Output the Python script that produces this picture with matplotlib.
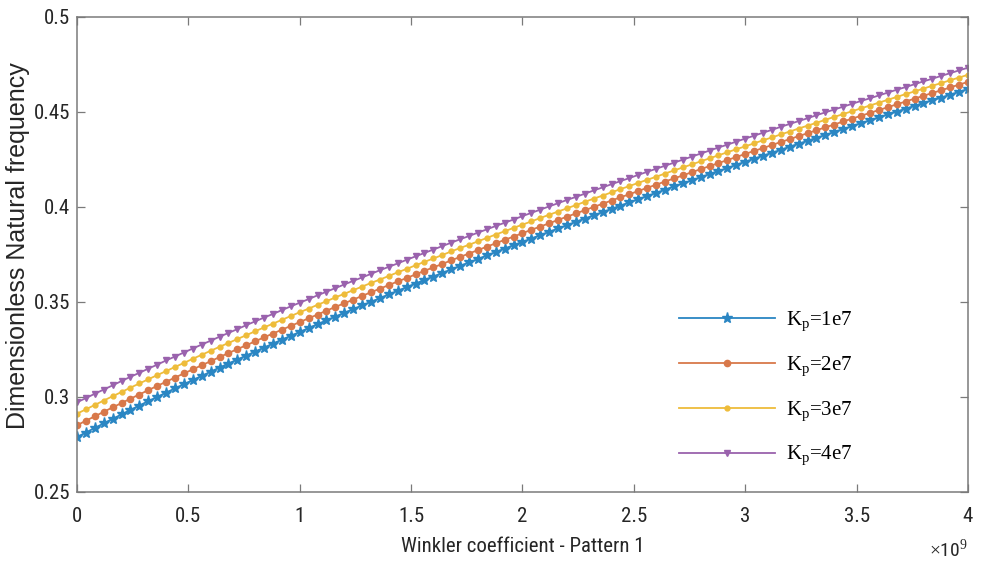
import matplotlib
matplotlib.use("Agg")
import matplotlib.pyplot as plt
import numpy as np
from matplotlib import font_manager

# ---------------- data ----------------
winkler_step = 4e7
n_points = 101
winkler = np.arange(n_points) * winkler_step  # 0 ... 4e9

kp1 = [0.2789, 0.2813, 0.2837, 0.2861, 0.2885, 0.2908, 0.2932, 0.2955, 0.2978, 0.3000,
       0.3023, 0.3045, 0.3067, 0.3089, 0.3111, 0.3133, 0.3155, 0.3176, 0.3197, 0.3218,
       0.3239, 0.3260, 0.3281, 0.3302, 0.3322, 0.3342, 0.3363, 0.3383, 0.3403, 0.3423,
       0.3443, 0.3462, 0.3482, 0.3501, 0.3520, 0.3540, 0.3559, 0.3578, 0.3597, 0.3616,
       0.3634, 0.3653, 0.3671, 0.3690, 0.3708, 0.3726, 0.3745, 0.3763, 0.3781, 0.3799,
       0.3816, 0.3834, 0.3852, 0.3869, 0.3887, 0.3904, 0.3922, 0.3939, 0.3956, 0.3973,
       0.3990, 0.4007, 0.4024, 0.4041, 0.4058, 0.4074, 0.4091, 0.4108, 0.4124, 0.4140,
       0.4157, 0.4173, 0.4189, 0.4205, 0.4222, 0.4238, 0.4254, 0.4270, 0.4285, 0.4301,
       0.4317, 0.4333, 0.4348, 0.4364, 0.4379, 0.4395, 0.4410, 0.4426, 0.4441, 0.4456,
       0.4471, 0.4487, 0.4502, 0.4517, 0.4532, 0.4547, 0.4562, 0.4576, 0.4591, 0.4606,
       0.4621]

kp2 = [0.2851, 0.2875, 0.2898, 0.2922, 0.2945, 0.2968, 0.2991, 0.3013, 0.3036, 0.3058,
       0.3080, 0.3102, 0.3124, 0.3145, 0.3167, 0.3188, 0.3210, 0.3231, 0.3252, 0.3272,
       0.3293, 0.3314, 0.3334, 0.3354, 0.3374, 0.3394, 0.3414, 0.3434, 0.3454, 0.3474,
       0.3493, 0.3512, 0.3532, 0.3551, 0.3570, 0.3589, 0.3608, 0.3626, 0.3645, 0.3664,
       0.3682, 0.3700, 0.3719, 0.3737, 0.3755, 0.3773, 0.3791, 0.3809, 0.3827, 0.3844,
       0.3862, 0.3880, 0.3897, 0.3914, 0.3932, 0.3949, 0.3966, 0.3983, 0.4000, 0.4017,
       0.4034, 0.4051, 0.4067, 0.4084, 0.4101, 0.4117, 0.4134, 0.4150, 0.4166, 0.4183,
       0.4199, 0.4215, 0.4231, 0.4247, 0.4263, 0.4279, 0.4295, 0.4310, 0.4326, 0.4342,
       0.4357, 0.4373, 0.4388, 0.4404, 0.4419, 0.4434, 0.4450, 0.4465, 0.4480, 0.4495,
       0.4510, 0.4525, 0.4540, 0.4555, 0.4570, 0.4585, 0.4600, 0.4614, 0.4629, 0.4644,
       0.4658]

kp3 = [0.2912, 0.2935, 0.2958, 0.2981, 0.3004, 0.3026, 0.3049, 0.3071, 0.3093, 0.3115,
       0.3136, 0.3158, 0.3179, 0.3201, 0.3222, 0.3243, 0.3264, 0.3284, 0.3305, 0.3325,
       0.3346, 0.3366, 0.3386, 0.3406, 0.3426, 0.3446, 0.3465, 0.3485, 0.3504, 0.3524,
       0.3543, 0.3562, 0.3581, 0.3600, 0.3618, 0.3637, 0.3656, 0.3674, 0.3693, 0.3711,
       0.3729, 0.3747, 0.3766, 0.3784, 0.3801, 0.3819, 0.3837, 0.3855, 0.3872, 0.3890,
       0.3907, 0.3924, 0.3942, 0.3959, 0.3976, 0.3993, 0.4010, 0.4027, 0.4044, 0.4060,
       0.4077, 0.4094, 0.4110, 0.4127, 0.4143, 0.4159, 0.4176, 0.4192, 0.4208, 0.4224,
       0.4240, 0.4256, 0.4272, 0.4288, 0.4304, 0.4319, 0.4335, 0.4351, 0.4366, 0.4382,
       0.4397, 0.4413, 0.4428, 0.4443, 0.4459, 0.4474, 0.4489, 0.4504, 0.4519, 0.4534,
       0.4549, 0.4564, 0.4579, 0.4594, 0.4608, 0.4623, 0.4638, 0.4652, 0.4667, 0.4681,
       0.4696]

kp4 = [0.2972, 0.2994, 0.3017, 0.3039, 0.3061, 0.3084, 0.3106, 0.3127, 0.3149, 0.3170,
       0.3192, 0.3213, 0.3234, 0.3255, 0.3276, 0.3296, 0.3317, 0.3337, 0.3357, 0.3378,
       0.3398, 0.3418, 0.3437, 0.3457, 0.3477, 0.3496, 0.3515, 0.3535, 0.3554, 0.3573,
       0.3592, 0.3611, 0.3629, 0.3648, 0.3667, 0.3685, 0.3703, 0.3722, 0.3740, 0.3758,
       0.3776, 0.3794, 0.3812, 0.3830, 0.3847, 0.3865, 0.3882, 0.3900, 0.3917, 0.3934,
       0.3952, 0.3969, 0.3986, 0.4003, 0.4020, 0.4037, 0.4053, 0.4070, 0.4087, 0.4103,
       0.4120, 0.4136, 0.4152, 0.4169, 0.4185, 0.4201, 0.4217, 0.4233, 0.4249, 0.4265,
       0.4281, 0.4297, 0.4313, 0.4328, 0.4344, 0.4360, 0.4375, 0.4391, 0.4406, 0.4422,
       0.4437, 0.4452, 0.4467, 0.4483, 0.4498, 0.4513, 0.4528, 0.4543, 0.4558, 0.4572,
       0.4587, 0.4602, 0.4617, 0.4631, 0.4646, 0.4661, 0.4675, 0.4690, 0.4704, 0.4719,
       0.4733]

series = [kp1, kp2, kp3, kp4]
labels = [r"K$_\mathregular{p}$=1e7", r"K$_\mathregular{p}$=2e7",
          r"K$_\mathregular{p}$=3e7", r"K$_\mathregular{p}$=4e7"]
colors = ["#2a86c3", "#d8784a", "#eebc3a", "#9a62ad"]
markers = ["*", "o", ".", "v"]
msizes = [8, 4.5, 7, 5]

xticks = [0, 0.5e9, 1e9, 1.5e9, 2e9, 2.5e9, 3e9, 3.5e9, 4e9]
xticklabels = ["0", "0.5", "1", "1.5", "2", "2.5", "3", "3.5", "4"]
yticks = [0.25, 0.3, 0.35, 0.4, 0.45, 0.5]
yticklabels = ["0.25", "0.3", "0.35", "0.4", "0.45", "0.5"]

# --------------- fonts ---------------
narrow_family = None
narrow_stretch = "normal"
ttf = font_manager.fontManager.ttflist
prefs = ["Liberation Sans Narrow", "DejaVu Sans Condensed", "Roboto Condensed",
         "Open Sans Condensed", "Noto Sans Condensed"]
for p in prefs:
    hit = [f for f in ttf if f.name == p and f.style == "normal"]
    if hit:
        narrow_family, narrow_stretch = hit[0].name, hit[0].stretch
        break
if narrow_family is None:
    hit = [f for f in ttf if f.style == "normal" and f.weight in (400, "normal")
           and (str(f.stretch) in ("condensed", "semi-condensed", "extra-condensed")
                or "Narrow" in f.name or "Condensed" in f.name)]
    hit.sort(key=lambda f: (0 if "Sans" in f.name else 1))
    if hit:
        narrow_family, narrow_stretch = hit[0].name, hit[0].stretch
if narrow_family is None:
    narrow_family = "Liberation Sans"

plt.rcParams["font.family"] = [narrow_family, "Liberation Sans", "DejaVu Sans"]
plt.rcParams["font.stretch"] = narrow_stretch
plt.rcParams["mathtext.fontset"] = "custom"
plt.rcParams["mathtext.rm"] = "Liberation Serif"

fig = plt.figure(figsize=(9.83, 5.64), dpi=100)
ax = fig.add_axes([0.0783, 0.1277, 0.9064, 0.8422])

for ys, lab, c, m, ms in zip(series, labels, colors, markers, msizes):
    ax.plot(winkler, ys, color=c, marker=m, markersize=ms, linewidth=1.3,
            markerfacecolor=c, markeredgecolor=c, label=lab)

ax.set_xlim(0, 4e9)
ax.set_ylim(0.25, 0.5)
ax.set_xticks(xticks)
ax.set_xticklabels(xticklabels)
ax.set_yticks(yticks)
ax.set_yticklabels(yticklabels)

axis_gray = "#7a7a7a"
for s in ax.spines.values():
    s.set_color(axis_gray)
    s.set_linewidth(1.1)
ax.tick_params(direction="in", top=True, right=True, length=6, width=0.9,
               color=axis_gray, labelsize=15, labelcolor="#262626")
ax.tick_params(axis="x", pad=11)
ax.tick_params(axis="y", pad=5)

ax.set_xlabel("Winkler coefficient - Pattern 1", fontsize=15, color="#262626", labelpad=8)
ax.set_ylabel("Dimensionless Natural frequency", fontsize=18, color="#262626",
              family=["Liberation Sans", "DejaVu Sans"], stretch="normal")
ax.yaxis.set_label_coords(-0.053, 0.518)

ax.text(1.0, -0.122, r"$\times$10$^{9}$", transform=ax.transAxes, ha="right", va="center",
        fontsize=14, color="#262626")

leg = ax.legend(loc="lower left", bbox_to_anchor=(0.655, 0.01), frameon=False,
                prop={"family": "Liberation Serif", "size": 15},
                handlelength=4.6, labelspacing=1.0, handletextpad=0.5,
                markerscale=1.0)

fig.savefig("out.png", dpi=100, facecolor="white")
